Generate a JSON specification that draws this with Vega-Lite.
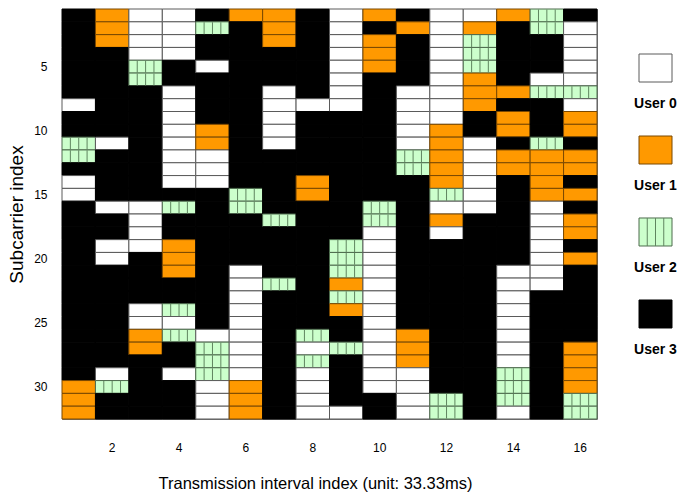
{
"$schema": "https://vega.github.io/schema/vega-lite/v6.json",
"padding": {"left": 7, "top": 8, "right": 0, "bottom": 0},
"background": "white",
"config": {
  "view": {"stroke": "#777777", "strokeWidth": 1},
  "axis": {"domain": false, "ticks": false, "tickSize": 0, "grid": false, "labelColor": "#000000", "titleColor": "#000000", "labelFont": "Liberation Sans, Arial, sans-serif", "labelFontSize": 12}
},
"datasets": {
"grid": [
{"t":1,"s":1,"u":3},{"t":1,"s":2,"u":3},{"t":1,"s":3,"u":3},{"t":1,"s":4,"u":3},{"t":1,"s":5,"u":3},{"t":1,"s":6,"u":3},{"t":1,"s":7,"u":3},{"t":1,"s":8,"u":0},{"t":1,"s":9,"u":3},{"t":1,"s":10,"u":3},{"t":1,"s":11,"u":2},{"t":1,"s":12,"u":2},{"t":1,"s":13,"u":3},{"t":1,"s":14,"u":0},{"t":1,"s":15,"u":0},{"t":1,"s":16,"u":3},{"t":1,"s":17,"u":3},{"t":1,"s":18,"u":3},{"t":1,"s":19,"u":3},{"t":1,"s":20,"u":3},{"t":1,"s":21,"u":3},{"t":1,"s":22,"u":3},{"t":1,"s":23,"u":3},{"t":1,"s":24,"u":3},{"t":1,"s":25,"u":3},{"t":1,"s":26,"u":3},{"t":1,"s":27,"u":3},{"t":1,"s":28,"u":3},{"t":1,"s":29,"u":3},{"t":1,"s":30,"u":1},{"t":1,"s":31,"u":1},{"t":1,"s":32,"u":1},
{"t":2,"s":1,"u":1},{"t":2,"s":2,"u":1},{"t":2,"s":3,"u":1},{"t":2,"s":4,"u":3},{"t":2,"s":5,"u":3},{"t":2,"s":6,"u":3},{"t":2,"s":7,"u":3},{"t":2,"s":8,"u":3},{"t":2,"s":9,"u":3},{"t":2,"s":10,"u":3},{"t":2,"s":11,"u":0},{"t":2,"s":12,"u":3},{"t":2,"s":13,"u":3},{"t":2,"s":14,"u":3},{"t":2,"s":15,"u":3},{"t":2,"s":16,"u":0},{"t":2,"s":17,"u":3},{"t":2,"s":18,"u":3},{"t":2,"s":19,"u":0},{"t":2,"s":20,"u":0},{"t":2,"s":21,"u":3},{"t":2,"s":22,"u":3},{"t":2,"s":23,"u":3},{"t":2,"s":24,"u":3},{"t":2,"s":25,"u":3},{"t":2,"s":26,"u":3},{"t":2,"s":27,"u":3},{"t":2,"s":28,"u":3},{"t":2,"s":29,"u":0},{"t":2,"s":30,"u":2},{"t":2,"s":31,"u":3},{"t":2,"s":32,"u":3},
{"t":3,"s":1,"u":0},{"t":3,"s":2,"u":0},{"t":3,"s":3,"u":0},{"t":3,"s":4,"u":0},{"t":3,"s":5,"u":2},{"t":3,"s":6,"u":2},{"t":3,"s":7,"u":3},{"t":3,"s":8,"u":3},{"t":3,"s":9,"u":3},{"t":3,"s":10,"u":3},{"t":3,"s":11,"u":3},{"t":3,"s":12,"u":3},{"t":3,"s":13,"u":3},{"t":3,"s":14,"u":3},{"t":3,"s":15,"u":3},{"t":3,"s":16,"u":0},{"t":3,"s":17,"u":0},{"t":3,"s":18,"u":0},{"t":3,"s":19,"u":0},{"t":3,"s":20,"u":3},{"t":3,"s":21,"u":3},{"t":3,"s":22,"u":3},{"t":3,"s":23,"u":3},{"t":3,"s":24,"u":0},{"t":3,"s":25,"u":0},{"t":3,"s":26,"u":1},{"t":3,"s":27,"u":1},{"t":3,"s":28,"u":3},{"t":3,"s":29,"u":3},{"t":3,"s":30,"u":3},{"t":3,"s":31,"u":3},{"t":3,"s":32,"u":3},
{"t":4,"s":1,"u":0},{"t":4,"s":2,"u":0},{"t":4,"s":3,"u":0},{"t":4,"s":4,"u":0},{"t":4,"s":5,"u":3},{"t":4,"s":6,"u":3},{"t":4,"s":7,"u":0},{"t":4,"s":8,"u":0},{"t":4,"s":9,"u":0},{"t":4,"s":10,"u":0},{"t":4,"s":11,"u":0},{"t":4,"s":12,"u":0},{"t":4,"s":13,"u":0},{"t":4,"s":14,"u":0},{"t":4,"s":15,"u":3},{"t":4,"s":16,"u":2},{"t":4,"s":17,"u":3},{"t":4,"s":18,"u":3},{"t":4,"s":19,"u":1},{"t":4,"s":20,"u":1},{"t":4,"s":21,"u":1},{"t":4,"s":22,"u":3},{"t":4,"s":23,"u":3},{"t":4,"s":24,"u":2},{"t":4,"s":25,"u":0},{"t":4,"s":26,"u":2},{"t":4,"s":27,"u":3},{"t":4,"s":28,"u":3},{"t":4,"s":29,"u":0},{"t":4,"s":30,"u":3},{"t":4,"s":31,"u":3},{"t":4,"s":32,"u":3},
{"t":5,"s":1,"u":3},{"t":5,"s":2,"u":2},{"t":5,"s":3,"u":3},{"t":5,"s":4,"u":3},{"t":5,"s":5,"u":0},{"t":5,"s":6,"u":3},{"t":5,"s":7,"u":3},{"t":5,"s":8,"u":3},{"t":5,"s":9,"u":3},{"t":5,"s":10,"u":1},{"t":5,"s":11,"u":1},{"t":5,"s":12,"u":0},{"t":5,"s":13,"u":0},{"t":5,"s":14,"u":0},{"t":5,"s":15,"u":3},{"t":5,"s":16,"u":3},{"t":5,"s":17,"u":3},{"t":5,"s":18,"u":3},{"t":5,"s":19,"u":3},{"t":5,"s":20,"u":3},{"t":5,"s":21,"u":3},{"t":5,"s":22,"u":3},{"t":5,"s":23,"u":3},{"t":5,"s":24,"u":3},{"t":5,"s":25,"u":3},{"t":5,"s":26,"u":0},{"t":5,"s":27,"u":2},{"t":5,"s":28,"u":2},{"t":5,"s":29,"u":2},{"t":5,"s":30,"u":0},{"t":5,"s":31,"u":0},{"t":5,"s":32,"u":0},
{"t":6,"s":1,"u":1},{"t":6,"s":2,"u":3},{"t":6,"s":3,"u":3},{"t":6,"s":4,"u":3},{"t":6,"s":5,"u":3},{"t":6,"s":6,"u":3},{"t":6,"s":7,"u":3},{"t":6,"s":8,"u":3},{"t":6,"s":9,"u":3},{"t":6,"s":10,"u":3},{"t":6,"s":11,"u":3},{"t":6,"s":12,"u":3},{"t":6,"s":13,"u":3},{"t":6,"s":14,"u":3},{"t":6,"s":15,"u":2},{"t":6,"s":16,"u":2},{"t":6,"s":17,"u":3},{"t":6,"s":18,"u":3},{"t":6,"s":19,"u":3},{"t":6,"s":20,"u":3},{"t":6,"s":21,"u":0},{"t":6,"s":22,"u":0},{"t":6,"s":23,"u":0},{"t":6,"s":24,"u":0},{"t":6,"s":25,"u":0},{"t":6,"s":26,"u":0},{"t":6,"s":27,"u":0},{"t":6,"s":28,"u":0},{"t":6,"s":29,"u":0},{"t":6,"s":30,"u":1},{"t":6,"s":31,"u":1},{"t":6,"s":32,"u":1},
{"t":7,"s":1,"u":1},{"t":7,"s":2,"u":1},{"t":7,"s":3,"u":1},{"t":7,"s":4,"u":3},{"t":7,"s":5,"u":3},{"t":7,"s":6,"u":3},{"t":7,"s":7,"u":0},{"t":7,"s":8,"u":0},{"t":7,"s":9,"u":0},{"t":7,"s":10,"u":0},{"t":7,"s":11,"u":0},{"t":7,"s":12,"u":3},{"t":7,"s":13,"u":3},{"t":7,"s":14,"u":3},{"t":7,"s":15,"u":3},{"t":7,"s":16,"u":3},{"t":7,"s":17,"u":2},{"t":7,"s":18,"u":3},{"t":7,"s":19,"u":3},{"t":7,"s":20,"u":3},{"t":7,"s":21,"u":3},{"t":7,"s":22,"u":2},{"t":7,"s":23,"u":3},{"t":7,"s":24,"u":3},{"t":7,"s":25,"u":3},{"t":7,"s":26,"u":3},{"t":7,"s":27,"u":3},{"t":7,"s":28,"u":3},{"t":7,"s":29,"u":3},{"t":7,"s":30,"u":3},{"t":7,"s":31,"u":3},{"t":7,"s":32,"u":3},
{"t":8,"s":1,"u":3},{"t":8,"s":2,"u":3},{"t":8,"s":3,"u":3},{"t":8,"s":4,"u":3},{"t":8,"s":5,"u":3},{"t":8,"s":6,"u":3},{"t":8,"s":7,"u":3},{"t":8,"s":8,"u":0},{"t":8,"s":9,"u":3},{"t":8,"s":10,"u":3},{"t":8,"s":11,"u":3},{"t":8,"s":12,"u":3},{"t":8,"s":13,"u":3},{"t":8,"s":14,"u":1},{"t":8,"s":15,"u":1},{"t":8,"s":16,"u":3},{"t":8,"s":17,"u":3},{"t":8,"s":18,"u":3},{"t":8,"s":19,"u":3},{"t":8,"s":20,"u":3},{"t":8,"s":21,"u":3},{"t":8,"s":22,"u":3},{"t":8,"s":23,"u":3},{"t":8,"s":24,"u":3},{"t":8,"s":25,"u":3},{"t":8,"s":26,"u":2},{"t":8,"s":27,"u":0},{"t":8,"s":28,"u":2},{"t":8,"s":29,"u":0},{"t":8,"s":30,"u":0},{"t":8,"s":31,"u":0},{"t":8,"s":32,"u":0},
{"t":9,"s":1,"u":0},{"t":9,"s":2,"u":0},{"t":9,"s":3,"u":0},{"t":9,"s":4,"u":0},{"t":9,"s":5,"u":0},{"t":9,"s":6,"u":0},{"t":9,"s":7,"u":0},{"t":9,"s":8,"u":0},{"t":9,"s":9,"u":3},{"t":9,"s":10,"u":3},{"t":9,"s":11,"u":3},{"t":9,"s":12,"u":3},{"t":9,"s":13,"u":3},{"t":9,"s":14,"u":3},{"t":9,"s":15,"u":3},{"t":9,"s":16,"u":3},{"t":9,"s":17,"u":3},{"t":9,"s":18,"u":3},{"t":9,"s":19,"u":2},{"t":9,"s":20,"u":2},{"t":9,"s":21,"u":2},{"t":9,"s":22,"u":1},{"t":9,"s":23,"u":2},{"t":9,"s":24,"u":1},{"t":9,"s":25,"u":3},{"t":9,"s":26,"u":3},{"t":9,"s":27,"u":2},{"t":9,"s":28,"u":3},{"t":9,"s":29,"u":3},{"t":9,"s":30,"u":3},{"t":9,"s":31,"u":3},{"t":9,"s":32,"u":0},
{"t":10,"s":1,"u":1},{"t":10,"s":2,"u":3},{"t":10,"s":3,"u":1},{"t":10,"s":4,"u":1},{"t":10,"s":5,"u":1},{"t":10,"s":6,"u":3},{"t":10,"s":7,"u":3},{"t":10,"s":8,"u":3},{"t":10,"s":9,"u":3},{"t":10,"s":10,"u":3},{"t":10,"s":11,"u":3},{"t":10,"s":12,"u":3},{"t":10,"s":13,"u":3},{"t":10,"s":14,"u":3},{"t":10,"s":15,"u":3},{"t":10,"s":16,"u":2},{"t":10,"s":17,"u":2},{"t":10,"s":18,"u":0},{"t":10,"s":19,"u":0},{"t":10,"s":20,"u":0},{"t":10,"s":21,"u":0},{"t":10,"s":22,"u":0},{"t":10,"s":23,"u":0},{"t":10,"s":24,"u":0},{"t":10,"s":25,"u":0},{"t":10,"s":26,"u":0},{"t":10,"s":27,"u":0},{"t":10,"s":28,"u":0},{"t":10,"s":29,"u":0},{"t":10,"s":30,"u":0},{"t":10,"s":31,"u":3},{"t":10,"s":32,"u":3},
{"t":11,"s":1,"u":3},{"t":11,"s":2,"u":1},{"t":11,"s":3,"u":3},{"t":11,"s":4,"u":3},{"t":11,"s":5,"u":3},{"t":11,"s":6,"u":3},{"t":11,"s":7,"u":0},{"t":11,"s":8,"u":0},{"t":11,"s":9,"u":0},{"t":11,"s":10,"u":0},{"t":11,"s":11,"u":0},{"t":11,"s":12,"u":2},{"t":11,"s":13,"u":2},{"t":11,"s":14,"u":3},{"t":11,"s":15,"u":3},{"t":11,"s":16,"u":3},{"t":11,"s":17,"u":3},{"t":11,"s":18,"u":3},{"t":11,"s":19,"u":3},{"t":11,"s":20,"u":3},{"t":11,"s":21,"u":3},{"t":11,"s":22,"u":3},{"t":11,"s":23,"u":3},{"t":11,"s":24,"u":3},{"t":11,"s":25,"u":3},{"t":11,"s":26,"u":1},{"t":11,"s":27,"u":1},{"t":11,"s":28,"u":1},{"t":11,"s":29,"u":0},{"t":11,"s":30,"u":0},{"t":11,"s":31,"u":0},{"t":11,"s":32,"u":0},
{"t":12,"s":1,"u":0},{"t":12,"s":2,"u":0},{"t":12,"s":3,"u":0},{"t":12,"s":4,"u":0},{"t":12,"s":5,"u":0},{"t":12,"s":6,"u":0},{"t":12,"s":7,"u":0},{"t":12,"s":8,"u":0},{"t":12,"s":9,"u":0},{"t":12,"s":10,"u":1},{"t":12,"s":11,"u":1},{"t":12,"s":12,"u":1},{"t":12,"s":13,"u":1},{"t":12,"s":14,"u":1},{"t":12,"s":15,"u":2},{"t":12,"s":16,"u":0},{"t":12,"s":17,"u":1},{"t":12,"s":18,"u":0},{"t":12,"s":19,"u":3},{"t":12,"s":20,"u":3},{"t":12,"s":21,"u":3},{"t":12,"s":22,"u":3},{"t":12,"s":23,"u":3},{"t":12,"s":24,"u":3},{"t":12,"s":25,"u":3},{"t":12,"s":26,"u":3},{"t":12,"s":27,"u":3},{"t":12,"s":28,"u":3},{"t":12,"s":29,"u":3},{"t":12,"s":30,"u":3},{"t":12,"s":31,"u":2},{"t":12,"s":32,"u":2},
{"t":13,"s":1,"u":0},{"t":13,"s":2,"u":1},{"t":13,"s":3,"u":2},{"t":13,"s":4,"u":2},{"t":13,"s":5,"u":2},{"t":13,"s":6,"u":1},{"t":13,"s":7,"u":1},{"t":13,"s":8,"u":1},{"t":13,"s":9,"u":3},{"t":13,"s":10,"u":3},{"t":13,"s":11,"u":0},{"t":13,"s":12,"u":0},{"t":13,"s":13,"u":0},{"t":13,"s":14,"u":0},{"t":13,"s":15,"u":0},{"t":13,"s":16,"u":0},{"t":13,"s":17,"u":3},{"t":13,"s":18,"u":3},{"t":13,"s":19,"u":3},{"t":13,"s":20,"u":3},{"t":13,"s":21,"u":3},{"t":13,"s":22,"u":3},{"t":13,"s":23,"u":3},{"t":13,"s":24,"u":3},{"t":13,"s":25,"u":3},{"t":13,"s":26,"u":3},{"t":13,"s":27,"u":3},{"t":13,"s":28,"u":3},{"t":13,"s":29,"u":3},{"t":13,"s":30,"u":3},{"t":13,"s":31,"u":3},{"t":13,"s":32,"u":3},
{"t":14,"s":1,"u":1},{"t":14,"s":2,"u":3},{"t":14,"s":3,"u":3},{"t":14,"s":4,"u":3},{"t":14,"s":5,"u":3},{"t":14,"s":6,"u":3},{"t":14,"s":7,"u":1},{"t":14,"s":8,"u":3},{"t":14,"s":9,"u":1},{"t":14,"s":10,"u":1},{"t":14,"s":11,"u":3},{"t":14,"s":12,"u":1},{"t":14,"s":13,"u":1},{"t":14,"s":14,"u":3},{"t":14,"s":15,"u":3},{"t":14,"s":16,"u":3},{"t":14,"s":17,"u":3},{"t":14,"s":18,"u":3},{"t":14,"s":19,"u":3},{"t":14,"s":20,"u":3},{"t":14,"s":21,"u":0},{"t":14,"s":22,"u":0},{"t":14,"s":23,"u":0},{"t":14,"s":24,"u":0},{"t":14,"s":25,"u":0},{"t":14,"s":26,"u":0},{"t":14,"s":27,"u":0},{"t":14,"s":28,"u":0},{"t":14,"s":29,"u":2},{"t":14,"s":30,"u":2},{"t":14,"s":31,"u":2},{"t":14,"s":32,"u":0},
{"t":15,"s":1,"u":2},{"t":15,"s":2,"u":2},{"t":15,"s":3,"u":3},{"t":15,"s":4,"u":3},{"t":15,"s":5,"u":3},{"t":15,"s":6,"u":0},{"t":15,"s":7,"u":2},{"t":15,"s":8,"u":3},{"t":15,"s":9,"u":3},{"t":15,"s":10,"u":3},{"t":15,"s":11,"u":2},{"t":15,"s":12,"u":1},{"t":15,"s":13,"u":1},{"t":15,"s":14,"u":1},{"t":15,"s":15,"u":1},{"t":15,"s":16,"u":0},{"t":15,"s":17,"u":0},{"t":15,"s":18,"u":0},{"t":15,"s":19,"u":0},{"t":15,"s":20,"u":0},{"t":15,"s":21,"u":0},{"t":15,"s":22,"u":0},{"t":15,"s":23,"u":3},{"t":15,"s":24,"u":3},{"t":15,"s":25,"u":3},{"t":15,"s":26,"u":3},{"t":15,"s":27,"u":3},{"t":15,"s":28,"u":3},{"t":15,"s":29,"u":3},{"t":15,"s":30,"u":3},{"t":15,"s":31,"u":3},{"t":15,"s":32,"u":3},
{"t":16,"s":1,"u":3},{"t":16,"s":2,"u":0},{"t":16,"s":3,"u":0},{"t":16,"s":4,"u":0},{"t":16,"s":5,"u":0},{"t":16,"s":6,"u":0},{"t":16,"s":7,"u":2},{"t":16,"s":8,"u":0},{"t":16,"s":9,"u":1},{"t":16,"s":10,"u":1},{"t":16,"s":11,"u":3},{"t":16,"s":12,"u":1},{"t":16,"s":13,"u":1},{"t":16,"s":14,"u":3},{"t":16,"s":15,"u":1},{"t":16,"s":16,"u":3},{"t":16,"s":17,"u":1},{"t":16,"s":18,"u":1},{"t":16,"s":19,"u":3},{"t":16,"s":20,"u":1},{"t":16,"s":21,"u":3},{"t":16,"s":22,"u":3},{"t":16,"s":23,"u":3},{"t":16,"s":24,"u":3},{"t":16,"s":25,"u":3},{"t":16,"s":26,"u":3},{"t":16,"s":27,"u":1},{"t":16,"s":28,"u":1},{"t":16,"s":29,"u":1},{"t":16,"s":30,"u":1},{"t":16,"s":31,"u":2},{"t":16,"s":32,"u":2}
],
"legend": [
{"u":0,"label":"User 0"},{"u":1,"label":"User 1"},{"u":2,"label":"User 2"},{"u":3,"label":"User 3"}
]
},
"bounds": "flush",
"spacing": 42,
"hconcat": [
{
  "width": 535,
  "height": 410,
  "data": {"name": "grid"},
  "encoding": {
    "y": {"field": "s", "type": "ordinal", "scale": {"type": "band", "paddingInner": 0, "paddingOuter": 0},
      "axis": {"values": [5,10,15,20,25,30], "labelPadding": 15, "title": "Subcarrier index", "titleFont": "Liberation Sans, Arial, sans-serif", "titleFontSize": 19, "titleFontWeight": "normal", "titlePadding": 7}}
  },
  "layer": [
    {"mark": {"type": "rect", "strokeWidth": 1},
     "encoding": {
       "x": {"field": "t", "type": "ordinal", "scale": {"type": "band", "paddingInner": 0, "paddingOuter": 0},
         "axis": {"values": [2,4,6,8,10,12,14,16], "labelAngle": 0, "labelPadding": 23, "title": "Transmission interval index (unit: 33.33ms)", "titleFont": "Liberation Sans, Arial, sans-serif", "titleFontSize": 16.5, "titleFontWeight": "normal", "titlePadding": 22, "titleX": 253}},
       "fill": {"field": "u", "type": "nominal", "scale": {"domain": [0,1,2,3], "range": ["#ffffff","#ff9900","#ccffcc","#000000"]}, "legend": null},
       "stroke": {"field": "u", "type": "nominal", "scale": {"domain": [0,1,2,3], "range": ["#5a5a5a","#7a4800","#4d6b4d","#000000"]}, "legend": null}
     }},
    {"transform": [{"filter": "datum.u === 2"}],
     "mark": {"type": "tick", "orient": "vertical", "thickness": 1, "size": 12, "color": "#5f855f", "opacity": 1},
     "encoding": {"x": {"field": "t", "type": "ordinal", "bandPosition": 0.25, "scale": {"type": "band", "paddingInner": 0, "paddingOuter": 0},
         "axis": {"values": [2,4,6,8,10,12,14,16], "labelAngle": 0, "labelPadding": 23, "title": "Transmission interval index (unit: 33.33ms)", "titleFont": "Liberation Sans, Arial, sans-serif", "titleFontSize": 16.5, "titleFontWeight": "normal", "titlePadding": 22, "titleX": 253}}}},
    {"transform": [{"filter": "datum.u === 2"}],
     "mark": {"type": "tick", "orient": "vertical", "thickness": 1, "size": 12, "color": "#5f855f", "opacity": 1},
     "encoding": {"x": {"field": "t", "type": "ordinal", "bandPosition": 0.5, "scale": {"type": "band", "paddingInner": 0, "paddingOuter": 0},
         "axis": {"values": [2,4,6,8,10,12,14,16], "labelAngle": 0, "labelPadding": 23, "title": "Transmission interval index (unit: 33.33ms)", "titleFont": "Liberation Sans, Arial, sans-serif", "titleFontSize": 16.5, "titleFontWeight": "normal", "titlePadding": 22, "titleX": 253}}}},
    {"transform": [{"filter": "datum.u === 2"}],
     "mark": {"type": "tick", "orient": "vertical", "thickness": 1, "size": 12, "color": "#5f855f", "opacity": 1},
     "encoding": {"x": {"field": "t", "type": "ordinal", "bandPosition": 0.75, "scale": {"type": "band", "paddingInner": 0, "paddingOuter": 0},
         "axis": {"values": [2,4,6,8,10,12,14,16], "labelAngle": 0, "labelPadding": 23, "title": "Transmission interval index (unit: 33.33ms)", "titleFont": "Liberation Sans, Arial, sans-serif", "titleFontSize": 16.5, "titleFontWeight": "normal", "titlePadding": 22, "titleX": 253}}}}
  ]
},
{
  "width": 33,
  "height": 364,
  "view": {"stroke": null},
  "data": {"name": "legend"},
  "encoding": {
    "y": {"field": "label", "type": "nominal", "scale": {"type": "band", "paddingInner": 0.6585, "paddingOuter": 0.549}, "axis": null}
  },
  "layer": [
    {"mark": {"type": "rect", "strokeWidth": 1},
     "encoding": {
       "x": {"datum": "swatch", "type": "nominal", "scale": {"type": "band", "paddingInner": 0, "paddingOuter": 0}, "axis": null},
       "fill": {"field": "u", "type": "nominal", "legend": null},
       "stroke": {"field": "u", "type": "nominal", "legend": null}
     }},
    {"transform": [{"filter": "datum.u === 2"}],
     "mark": {"type": "tick", "orient": "vertical", "thickness": 1, "size": 28, "color": "#5f855f", "opacity": 1},
     "encoding": {"x": {"datum": "swatch", "type": "nominal", "bandPosition": 0.25, "axis": null}}},
    {"transform": [{"filter": "datum.u === 2"}],
     "mark": {"type": "tick", "orient": "vertical", "thickness": 1, "size": 28, "color": "#5f855f", "opacity": 1},
     "encoding": {"x": {"datum": "swatch", "type": "nominal", "bandPosition": 0.5, "axis": null}}},
    {"transform": [{"filter": "datum.u === 2"}],
     "mark": {"type": "tick", "orient": "vertical", "thickness": 1, "size": 28, "color": "#5f855f", "opacity": 1},
     "encoding": {"x": {"datum": "swatch", "type": "nominal", "bandPosition": 0.75, "axis": null}}},
    {"mark": {"type": "text", "dy": 36, "font": "Liberation Sans, Arial, sans-serif", "fontWeight": "bold", "fontSize": 14, "color": "#000000"},
     "encoding": {
       "x": {"datum": "swatch", "type": "nominal", "axis": null},
       "text": {"field": "label"}
     }}
  ]
}
]
}
